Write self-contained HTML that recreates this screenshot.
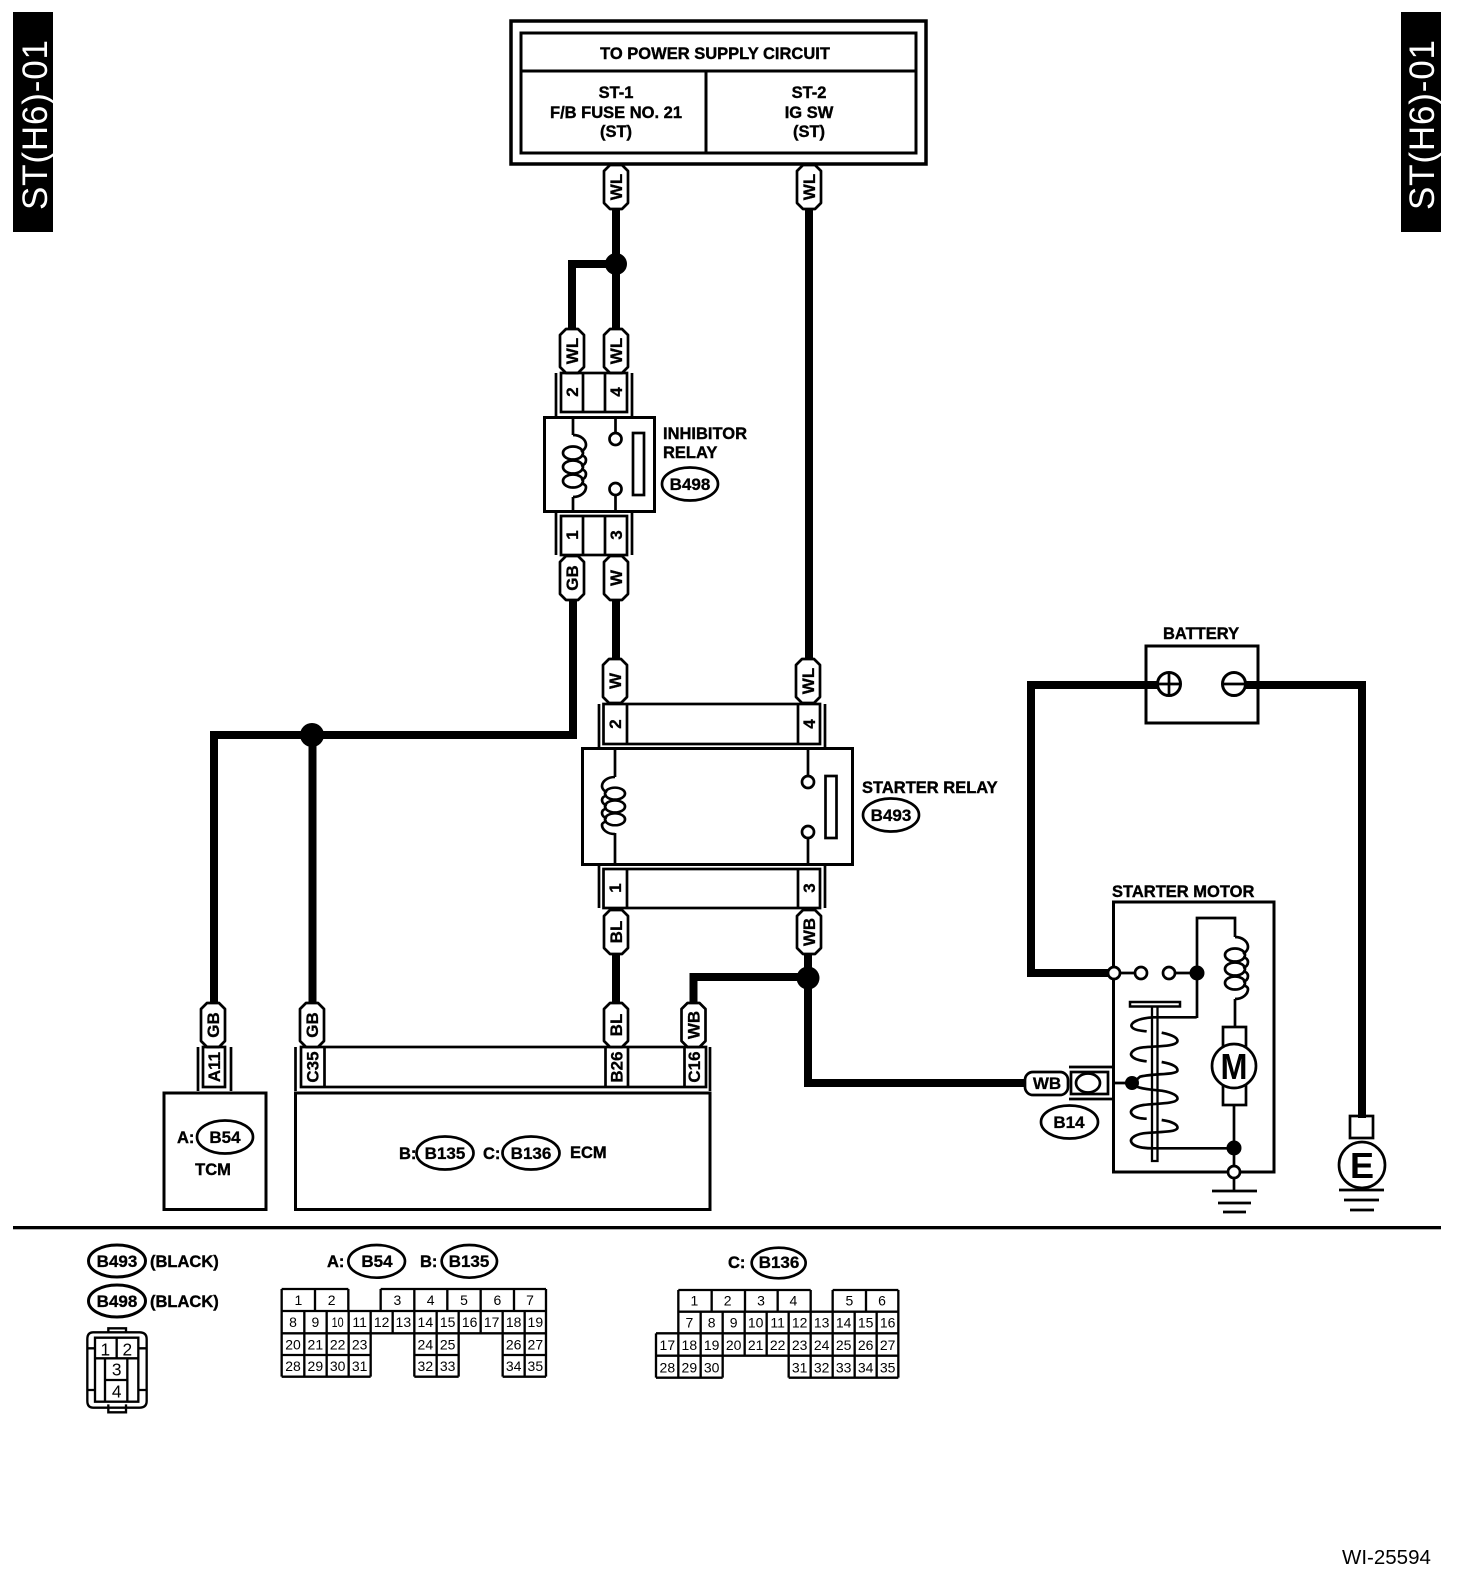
<!DOCTYPE html>
<html><head><meta charset="utf-8"><title>ST(H6)-01</title>
<style>
html,body{margin:0;padding:0;background:#fff}
svg{display:block}
text{font-family:"Liberation Sans",sans-serif;fill:#000}
.b{font-weight:bold;font-size:16.5px;stroke:#000;stroke-width:.4}
.m{text-anchor:middle}
.p{font-weight:bold;font-size:17px;text-anchor:middle;stroke:#000;stroke-width:.3}
.o{font-weight:bold;font-size:17px;text-anchor:middle;stroke:#000;stroke-width:.3}
.l{fill:none;stroke:#000;stroke-width:2.7}
.w{fill:none;stroke:#000;stroke-width:8}
.f{fill:#fff;stroke:#000;stroke-width:2.7}
.j{fill:#000;stroke:none}
.ov{fill:#fff;stroke:#000;stroke-width:2.7}
.g{fill:none;stroke:#000;stroke-width:7}
.n text,.n{font-size:42px;text-anchor:middle}
.big{font-size:52px;text-anchor:middle}
</style></head><body>
<svg xmlns="http://www.w3.org/2000/svg" width="1472" height="1582" viewBox="0 0 1472 1582">
<defs>
<g id="coil">
<path class="l" d="M0 0C8 0 13 5 13 10C13 13 11 15 8 17M8 20C12 21 13 23 13 25C13 28 11 30 8 31M8 34C12 35 13 37 13 39C13 42 11 44 8 45M8 48C12 49 13 51 13 52C13 57 8 62 0 62"/>
<ellipse class="l" cx="0" cy="18" rx="10" ry="6.500"/>
<ellipse class="l" cx="0" cy="32" rx="10" ry="6.500"/>
<ellipse class="l" cx="0" cy="46" rx="10" ry="6.500"/>
</g>
<path id="pv" d="M6 0H18L24 6V38L18 44H6L0 38V6Z" fill="#fff" stroke="#000" stroke-width="2.700" stroke-linejoin="round"/>
</defs>

<!-- side tabs -->
<rect x="13" y="12" width="40" height="220" fill="#000"/>
<rect x="1401" y="12" width="40" height="220" fill="#000"/>
<text transform="translate(47 125) rotate(-90)" text-anchor="middle" font-size="35" textLength="170" style="fill:#fff">ST(H6)-01</text>
<text transform="translate(1434 125) rotate(-90)" text-anchor="middle" font-size="35" textLength="170" style="fill:#fff">ST(H6)-01</text>

<!-- wires -->
<path class="w" d="M616 205V330M572 335V264H616"/>
<path class="w" d="M809 205V665"/>
<path class="w" d="M616 596V665"/>
<path class="w" d="M573 596V735H214V1008"/>
<path class="w" d="M312.500 735V1008"/>
<path class="w" d="M616 950V1008"/>
<path class="w" d="M693.500 1008V977H808M808 950V1083H1030"/>
<path class="w" d="M1113 973H1031V685H1160M1234 685H1362V1118"/>
<circle class="j" cx="616" cy="264" r="11"/>
<circle class="j" cx="312" cy="735" r="12"/>
<circle class="j" cx="808" cy="978" r="11.500"/>

<!-- top box -->
<rect x="511" y="21" width="415" height="143" fill="#fff" stroke="#000" stroke-width="3.500"/>
<rect x="521" y="33" width="395" height="120" fill="#fff" stroke="#000" stroke-width="3"/>
<path class="l" d="M521 71H916M706 71V153" style="stroke-width:3"/>
<text class="b m" x="715" y="59">TO POWER SUPPLY CIRCUIT</text>
<text class="b m" x="616" y="98">ST-1</text>
<text class="b m" x="616" y="118">F/B FUSE NO. 21</text>
<text class="b m" x="616" y="137">(ST)</text>
<text class="b m" x="809" y="98">ST-2</text>
<text class="b m" x="809" y="118">IG SW</text>
<text class="b m" x="809" y="137">(ST)</text>

<!-- pills: top -->
<use href="#pv" x="604" y="165"/>
<text class="p" transform="translate(622 187) rotate(-90)">WL</text>
<use href="#pv" x="797" y="165"/>
<text class="p" transform="translate(815 187) rotate(-90)">WL</text>

<!-- inhibitor relay -->
<use href="#pv" x="560" y="329"/>
<text class="p" transform="translate(578 351) rotate(-90)">WL</text>
<use href="#pv" x="604" y="329"/>
<text class="p" transform="translate(622 351) rotate(-90)">WL</text>
<path class="l" d="M556 373V416M632 373V416M556 513V555M632 513V555"/>
<rect class="l" x="561" y="373" width="66" height="39"/>
<path class="l" d="M583 373V412M605 373V412"/>
<text class="p" transform="translate(578 392) rotate(-90)">2</text>
<text class="p" transform="translate(622 392) rotate(-90)">4</text>
<rect class="f" x="544.500" y="417.500" width="110" height="94" style="stroke-width:3"/>
<path class="l" d="M573 418V435M573 497V511M615.500 418V434M615.500 494V511"/>
<use href="#coil" transform="translate(573 435)"/>
<circle class="f" cx="615.500" cy="439" r="6"/>
<circle class="f" cx="615.500" cy="489" r="6"/>
<rect class="l" x="633" y="433" width="11" height="62"/>
<rect class="l" x="561" y="516" width="66" height="39"/>
<path class="l" d="M583 516V555M605 516V555"/>
<text class="p" transform="translate(578 535) rotate(-90)">1</text>
<text class="p" transform="translate(622 535) rotate(-90)">3</text>
<use href="#pv" x="560" y="556"/>
<text class="p" transform="translate(578 578) rotate(-90)">GB</text>
<use href="#pv" x="604" y="556"/>
<text class="p" transform="translate(622 578) rotate(-90)">W</text>
<text class="b" x="663" y="439">INHIBITOR</text>
<text class="b" x="663" y="458">RELAY</text>
<ellipse class="ov" cx="690" cy="484" rx="28" ry="16.500"/>
<text class="o" x="690" y="490">B498</text>

<!-- starter relay -->
<use href="#pv" x="603" y="659"/>
<text class="p" transform="translate(621 681) rotate(-90)">W</text>
<use href="#pv" x="796" y="659"/>
<text class="p" transform="translate(814 681) rotate(-90)">WL</text>
<path class="l" d="M599 704V747M825 704V747M599 866V908M825 866V908"/>
<rect class="l" x="603.500" y="704" width="216.500" height="40"/>
<path class="l" d="M627 704V744M798 704V744"/>
<text class="p" transform="translate(621 724) rotate(-90)">2</text>
<text class="p" transform="translate(815 724) rotate(-90)">4</text>
<rect class="f" x="582.500" y="748.500" width="270" height="116" style="stroke-width:3"/>
<path class="l" d="M615 749V777M615 833V864M808 749V776M808 838V864"/>
<use href="#coil" transform="translate(615 777) scale(-1 .92)"/>
<circle class="f" cx="808" cy="782" r="6"/>
<circle class="f" cx="808" cy="832" r="6"/>
<rect class="l" x="825.500" y="776" width="11" height="62"/>
<rect class="l" x="603.500" y="869" width="216.500" height="39"/>
<path class="l" d="M627 869V908M798 869V908"/>
<text class="p" transform="translate(621 888) rotate(-90)">1</text>
<text class="p" transform="translate(815 888) rotate(-90)">3</text>
<use href="#pv" x="604" y="910"/>
<text class="p" transform="translate(622 932) rotate(-90)">BL</text>
<use href="#pv" x="797" y="910"/>
<text class="p" transform="translate(815 932) rotate(-90)">WB</text>
<text class="b" x="862" y="793">STARTER RELAY</text>
<ellipse class="ov" cx="891" cy="815" rx="28" ry="16.500"/>
<text class="o" x="891" y="821">B493</text>

<!-- TCM -->
<use href="#pv" x="201" y="1003"/>
<text class="p" transform="translate(219 1025) rotate(-90)">GB</text>
<path class="l" d="M198 1047V1091M231 1047V1091"/>
<rect class="l" x="203" y="1047" width="22" height="40"/>
<text class="p" transform="translate(220 1067) rotate(-90)">A11</text>
<rect class="f" x="164" y="1093" width="102" height="116.500" style="stroke-width:3"/>
<text class="b" x="177" y="1143">A:</text>
<ellipse class="ov" cx="225" cy="1137" rx="28" ry="16.500"/>
<text class="o" x="225" y="1143">B54</text>
<text class="b m" x="213" y="1175">TCM</text>

<!-- ECM -->
<path class="l" d="M295.500 1047V1091M710 1047V1091"/>
<rect class="l" x="301" y="1047" width="405" height="40"/>
<path class="l" d="M324.500 1047V1087M605.500 1047V1087M628 1047V1087M684.500 1047V1087"/>
<use href="#pv" x="300" y="1003"/>
<text class="p" transform="translate(318 1025) rotate(-90)">GB</text>
<use href="#pv" x="604" y="1003"/>
<text class="p" transform="translate(622 1025) rotate(-90)">BL</text>
<use href="#pv" x="681.500" y="1003"/>
<text class="p" transform="translate(699.500 1025) rotate(-90)">WB</text>
<text class="p" transform="translate(318.500 1067) rotate(-90)">C35</text>
<text class="p" transform="translate(622.500 1067) rotate(-90)">B26</text>
<text class="p" transform="translate(700 1067) rotate(-90)">C16</text>
<rect class="f" x="295.500" y="1093" width="414.500" height="116.500" style="stroke-width:3"/>
<text class="b" x="399" y="1159">B:</text>
<ellipse class="ov" cx="445" cy="1153" rx="28.500" ry="16.500"/>
<text class="o" x="445" y="1159">B135</text>
<text class="b" x="483" y="1159">C:</text>
<ellipse class="ov" cx="531" cy="1153" rx="28.500" ry="16.500"/>
<text class="o" x="531" y="1159">B136</text>
<text class="b" x="570" y="1158">ECM</text>

<!-- battery -->
<text class="b" x="1163" y="639">BATTERY</text>
<rect class="l" x="1146" y="646" width="112" height="77" style="stroke-width:3"/>
<path class="w" d="M1130 685H1160M1240 685H1262"/>
<circle class="f" cx="1169" cy="684" r="11.500" style="stroke-width:3"/>
<path class="l" d="M1158 684H1180M1169 673V695"/>
<circle class="f" cx="1234" cy="684" r="11.500" style="stroke-width:3"/>
<path class="l" d="M1223 684H1245"/>

<!-- starter motor -->
<text class="b" x="1112" y="897">STARTER MOTOR</text>
<rect class="l" x="1113.500" y="902" width="160.500" height="270" style="stroke-width:3"/>
<path class="l" d="M1114 973H1141M1169 973H1197M1197 1018V918H1235V937M1235 999V1027M1234 1105V1172"/>
<use href="#coil" transform="translate(1235 937)"/>
<circle class="f" cx="1114" cy="973" r="6"/>
<circle class="f" cx="1141" cy="973" r="6"/>
<circle class="f" cx="1169" cy="973" r="6"/>
<circle class="j" cx="1197" cy="973" r="7.500"/>
<circle class="j" cx="1234" cy="1148" r="7.500"/>
<rect x="1130" y="1002" width="50" height="4.500" fill="#fff" stroke="#000" stroke-width="2.500"/>
<path d="M1152 1007V1161H1157.500V1007" fill="none" stroke="#000" stroke-width="2.300"/>
<g transform="translate(1120 990) scale(.33333)">
<path d="M230 82H100C50 85 30 100 35 110C40 120 60 122 80 124M125 128C160 135 175 145 172 155C165 170 110 168 70 172C40 175 28 190 35 198C42 208 60 212 80 214M125 216C160 222 175 232 172 243C165 255 100 250 60 260L40 278M50 290C70 298 100 300 125 302C160 308 175 318 172 328C165 342 110 340 70 345C40 350 28 362 35 372C42 382 60 386 80 386M125 390C160 395 175 405 172 415C165 428 110 425 70 430C40 435 28 448 35 458C42 470 70 475 100 475H342" fill="none" stroke="#000" stroke-width="8"/>
</g>
<circle class="j" cx="1132" cy="1083" r="7"/>
<path class="l" d="M1113 1083H1132"/>
<rect class="f" x="1223" y="1027" width="23" height="78"/>
<circle class="f" cx="1234" cy="1066" r="22"/>
<text x="1234" y="1079" text-anchor="middle" font-weight="bold" font-size="36" textLength="27" lengthAdjust="spacingAndGlyphs">M</text>
<circle class="f" cx="1234" cy="1172" r="6"/>
<path class="l" d="M1234 1178V1191M1212 1191H1257M1218 1203H1251M1223 1212H1246"/>

<!-- B14 connector -->
<rect class="f" x="1025" y="1072" width="43" height="23" rx="8"/>
<text class="p" x="1047" y="1089">WB</text>
<rect class="l" x="1071" y="1072" width="37" height="22"/>
<path class="l" d="M1069 1067H1113M1069 1099H1113"/>
<ellipse class="l" cx="1088" cy="1083" rx="12" ry="9.500"/>
<ellipse class="ov" cx="1069.500" cy="1122" rx="28.500" ry="16.500"/>
<text class="o" x="1069" y="1128">B14</text>

<!-- E ground -->
<rect class="l" x="1350" y="1116" width="23" height="22"/>
<circle class="f" cx="1362" cy="1165" r="23"/>
<text x="1362" y="1178" text-anchor="middle" font-weight="bold" font-size="36">E</text>
<path class="l" d="M1339 1190H1384M1344 1200H1379M1350 1210H1374"/>

<!-- separator -->
<rect x="13" y="1226" width="1428" height="3.300" fill="#000"/>

<!-- legend left -->
<ellipse class="ov" cx="117" cy="1261" rx="28.500" ry="16" style="stroke-width:3"/>
<text class="o" x="117" y="1267">B493</text>
<text class="b" x="150" y="1267">(BLACK)</text>
<ellipse class="ov" cx="117" cy="1301" rx="28.500" ry="16" style="stroke-width:3"/>
<text class="o" x="117" y="1307">B498</text>
<text class="b" x="150" y="1307">(BLACK)</text>

<g transform="translate(70 1225) scale(.33333)">
<path class="g" d="M115 322V310H168V322M115 538V562H168V538M70 322H208Q230 322 230 342V528Q230 548 208 548H70Q52 548 52 528V342Q52 322 70 322ZM75 338H205V530H75ZM75 400H205M105 400V530M172 400V530M105 465H172M140 338V400M52 370H75M205 370H230M52 495H75M205 495H230"/>
<text class="big" x="106" y="392">1</text><text class="big" x="172" y="392">2</text>
<text class="big" x="140" y="452">3</text><text class="big" x="140" y="518">4</text>
<!-- A/B connector heading -->
<text class="b" transform="scale(3)" x="257" y="42">A:</text>
<ellipse class="ov" cx="920" cy="109" rx="85" ry="49" style="stroke-width:8"/>
<text class="o" transform="scale(3)" x="307" y="42">B54</text>
<text class="b" transform="scale(3)" x="350" y="42">B:</text>
<ellipse class="ov" cx="1198" cy="109" rx="83" ry="49" style="stroke-width:8"/>
<text class="o" transform="scale(3)" x="399" y="42">B135</text>
<!-- A grid -->
<path class="g" d="M635 192H835M932 192H1428M635 258H1428M635 325H1428M635 390H902M1033 390H1166M1298 390H1428M635 455H902M1033 455H1166M1298 455H1428
M635 192V258M735 192V258M835 192V258M932 192V258M1033 192V258M1132 192V258M1232 192V258M1332 192V258M1428 192V258
M635 258V325M703 258V325M770 258V325M836 258V325M902 258V325M968 258V325M1033 258V325M1100 258V325M1166 258V325M1232 258V325M1298 258V325M1364 258V325M1428 258V325
M635 325V455M703 325V455M770 325V455M836 325V455M902 325V455M1033 325V455M1100 325V455M1166 325V455M1298 325V455M1364 325V455M1428 325V455"/>
<g class="n">
<text x="685" y="240">1</text><text x="785" y="240">2</text><text x="982" y="240">3</text><text x="1082" y="240">4</text><text x="1182" y="240">5</text><text x="1282" y="240">6</text><text x="1380" y="240">7</text>
<text x="669" y="306">8</text><text x="736" y="306">9</text><text x="803" y="306" textLength="36" lengthAdjust="spacingAndGlyphs">10</text><text x="869" y="306">11</text><text x="935" y="306">12</text><text x="1000" y="306">13</text><text x="1066" y="306">14</text><text x="1133" y="306">15</text><text x="1199" y="306">16</text><text x="1265" y="306">17</text><text x="1331" y="306">18</text><text x="1396" y="306">19</text>
<text x="669" y="373">20</text><text x="736" y="373">21</text><text x="803" y="373">22</text><text x="869" y="373">23</text><text x="1066" y="373">24</text><text x="1133" y="373">25</text><text x="1331" y="373">26</text><text x="1396" y="373">27</text>
<text x="669" y="438">28</text><text x="736" y="438">29</text><text x="803" y="438">30</text><text x="869" y="438">31</text><text x="1066" y="438">32</text><text x="1133" y="438">33</text><text x="1331" y="438">34</text><text x="1396" y="438">35</text>
</g>
</g>

<g transform="translate(640 1235) scale(.33333)">
<text class="b" transform="scale(3)" x="88" y="33">C:</text>
<ellipse class="ov" cx="416" cy="84" rx="81" ry="46" style="stroke-width:8"/>
<text class="o" transform="scale(3)" x="139" y="33">B136</text>
<path class="g" d="M115 165H512M578 165H775M115 230H775M48 295H775M48 362H775M48 428H248M446 428H775
M115 165V230M215 165V230M315 165V230M413 165V230M512 165V230M578 165V230M678 165V230M775 165V230
M115 230V295M182 230V295M248 230V295M314 230V295M380 230V295M446 230V295M512 230V295M578 230V295M644 230V295M710 230V295M775 230V295
M48 295V428M115 295V428M182 295V428M248 295V428M314 295V362M380 295V362M446 295V428M512 295V428M578 295V428M644 295V428M710 295V428M775 295V428"/>
<g class="n">
<text x="163" y="212">1</text><text x="263" y="212">2</text><text x="363" y="212">3</text><text x="460" y="212">4</text><text x="628" y="212">5</text><text x="726" y="212">6</text>
<text x="148" y="278">7</text><text x="215" y="278">8</text><text x="281" y="278">9</text><text x="347" y="278">10</text><text x="413" y="278">11</text><text x="479" y="278">12</text><text x="545" y="278">13</text><text x="611" y="278">14</text><text x="677" y="278">15</text><text x="743" y="278">16</text>
<text x="82" y="345">17</text><text x="148" y="345">18</text><text x="215" y="345">19</text><text x="281" y="345">20</text><text x="347" y="345">21</text><text x="413" y="345">22</text><text x="479" y="345">23</text><text x="545" y="345">24</text><text x="611" y="345">25</text><text x="677" y="345">26</text><text x="743" y="345">27</text>
<text x="82" y="412">28</text><text x="148" y="412">29</text><text x="215" y="412">30</text><text x="479" y="412">31</text><text x="545" y="412">32</text><text x="611" y="412">33</text><text x="677" y="412">34</text><text x="743" y="412">35</text>
</g>
</g>

<text x="1342" y="1564" font-size="20.500">WI-25594</text>
</svg>
</body></html>
